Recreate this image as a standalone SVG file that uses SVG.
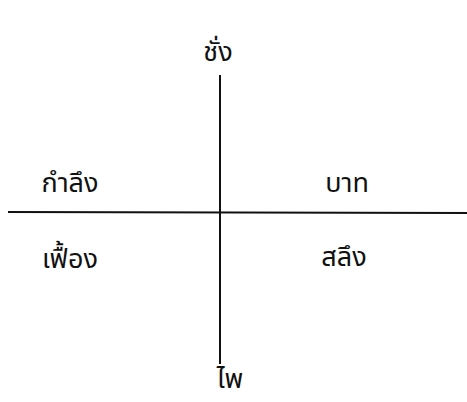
<svg xmlns="http://www.w3.org/2000/svg" width="467" height="402" viewBox="0 0 467 402">
<style>
.t{font-family:"Noto Sans Thai","Noto Sans","DejaVu Sans",sans-serif;font-size:27px;fill:#111;text-anchor:middle}
.ln{stroke:#111;stroke-width:2;fill:none}
</style>
<rect width="467" height="402" fill="#fff"/>
<g id="connectors">
<line class="ln" x1="220" y1="75" x2="220" y2="364"/>
<line class="ln" x1="8" y1="212" x2="467" y2="213"/>
</g>
<g id="n-chang"><text class="t" x="218" y="61">ชั่ง</text></g>
<g id="n-phai"><text class="t" x="230" y="388">ไพ</text></g>
<g id="n-kamlueng"><text class="t" x="70" y="192">กำลึง</text></g>
<g id="n-baht"><text class="t" x="347" y="192">บาท</text></g>
<g id="n-fueang"><text class="t" x="70" y="268">เฟื้อง</text></g>
<g id="n-salueng"><text class="t" x="344" y="266">สลึง</text></g>
</svg>
